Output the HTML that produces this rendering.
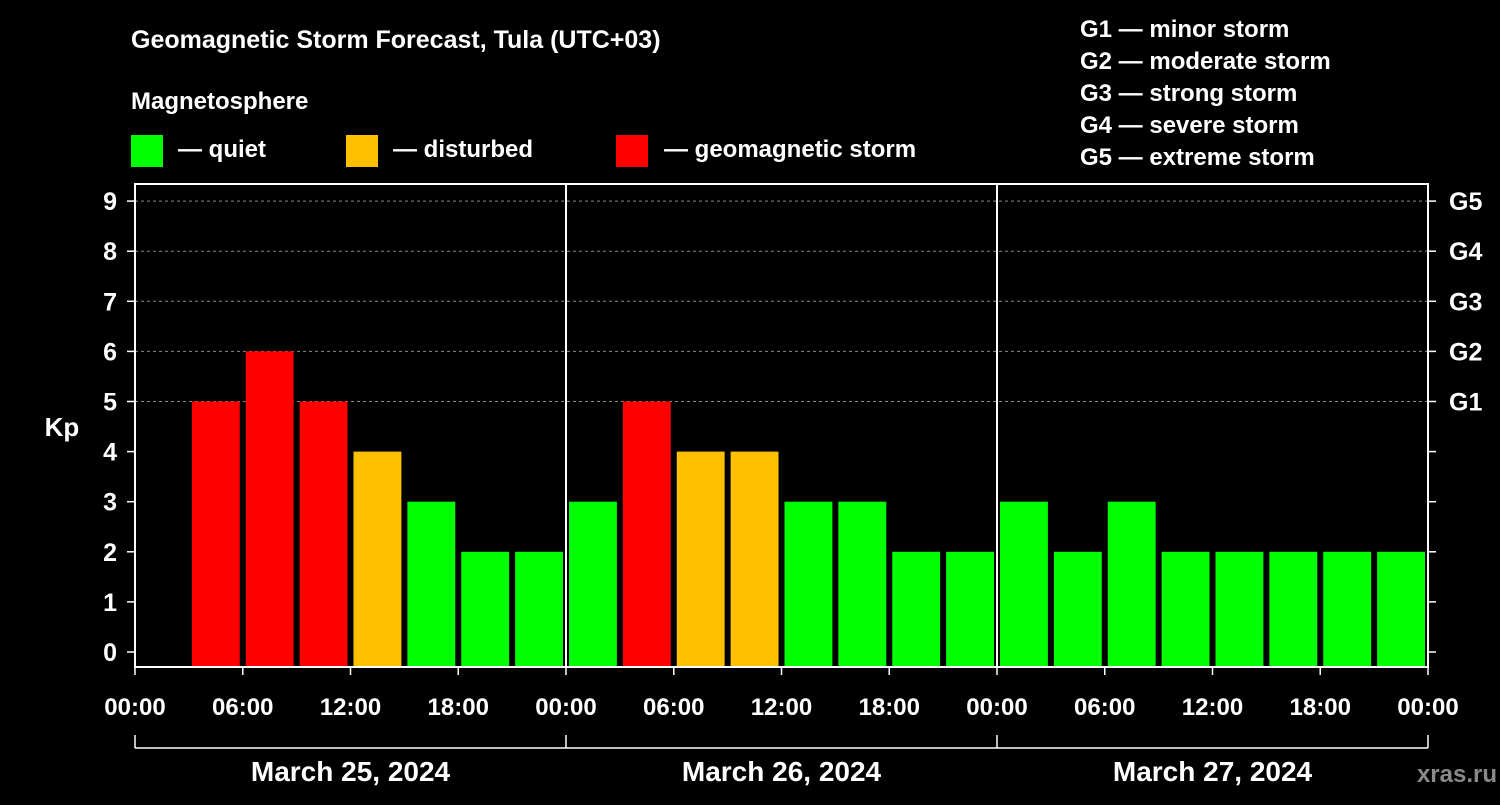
<!DOCTYPE html>
<html><head><meta charset="utf-8"><style>
body{margin:0;background:#000;width:1500px;height:800px;overflow:hidden}
svg text{font-family:"Liberation Sans",sans-serif;font-weight:bold;fill:#fff}
</style></head><body>
<svg id="c" width="1500" height="800">
<text x="131" y="48" font-size="25">Geomagnetic Storm Forecast, Tula (UTC+03)</text>
<text x="131" y="109" font-size="24">Magnetosphere</text>
<rect x="131" y="135" width="32" height="32" fill="#00ff00"/>
<text x="178" y="157" font-size="24">— quiet</text>
<rect x="346" y="135" width="32" height="32" fill="#ffc000"/>
<text x="393" y="157" font-size="24">— disturbed</text>
<rect x="616" y="135" width="32" height="32" fill="#ff0000"/>
<text x="664" y="157" font-size="24">— geomagnetic storm</text>
<g font-size="24">
<text x="1080" y="37">G1 — minor storm</text>
<text x="1080" y="69">G2 — moderate storm</text>
<text x="1080" y="101">G3 — strong storm</text>
<text x="1080" y="133">G4 — severe storm</text>
<text x="1080" y="165">G5 — extreme storm</text>
</g>
<text x="62" y="436" font-size="26" text-anchor="middle">Kp</text>
<text x="1497" y="782" font-size="24" text-anchor="end" fill="#888" style="fill:#8a8a8a">xras.ru</text>
<g id="g"></g>
</svg>
<script>
const dates=["March 25, 2024","March 26, 2024","March 27, 2024"];
const kp=[null,5,6,5,4,3,2,2, 3,5,4,4,3,3,2,2, 3,2,3,2,2,2,2,2];
const yTicks=[0,1,2,3,4,5,6,7,8,9];
const gLabels=["G1","G2","G3","G4","G5"];
const xTickLabels=["00:00","06:00","12:00","18:00"];
const NS="http://www.w3.org/2000/svg";
const g=document.getElementById('g');
const L=135,R=1428,T=184,B=667,Y0=652,unit=50.1;
const slotW=(R-L)/kp.length;
const y=v=>Y0-v*unit;
const x=i=>L+i*slotW;
function mk(t,a,txt){const e=document.createElementNS(NS,t);for(const k in a)e.setAttribute(k,a[k]);if(txt!=null)e.textContent=txt;g.appendChild(e);return e;}
// grid
yTicks.filter(v=>v>=5).forEach(v=>{
 const e=mk('line',{x1:L,x2:R,y1:y(v),y2:y(v),stroke:'#888','stroke-dasharray':'3,3','stroke-width':1});
 
 
});
// bars
kp.forEach((v,i)=>{
 if(v==null)return;
 const c=v>=5?'#ff0000':v>=4?'#ffc000':'#00ff00';
 const e=mk('rect',{x:x(i)+3,y:y(v),width:slotW-6,height:B-y(v),fill:c});
 
 
});
// frame
const fr=mk('rect',{x:L,y:T,width:R-L,height:B-T,fill:'none',stroke:'#fff','stroke-width':2});


for(let d=1;d<dates.length;d++){
 const e=mk('line',{x1:x(d*8),x2:x(d*8),y1:T,y2:B,stroke:'#fff','stroke-width':2});
 
 
}
// y ticks
yTicks.forEach(v=>{
 mk('line',{x1:L-8,x2:L,y1:y(v),y2:y(v),stroke:'#fff','stroke-width':1.5});
 mk('line',{x1:R,x2:R+8,y1:y(v),y2:y(v),stroke:'#fff','stroke-width':1.5});
 const t=mk('text',{x:L-18,y:y(v)+9,'font-size':25,'text-anchor':'end'},String(v));
 
 
});
gLabels.forEach((s,i)=>{
 const t=mk('text',{x:1449,y:y(5+i)+9,'font-size':25},s);
 
 
});
// x ticks
for(let i=0;i<=kp.length;i+=2){
 mk('line',{x1:x(i),x2:x(i),y1:B,y2:B+8,stroke:'#fff','stroke-width':1.5});
 const t=mk('text',{x:x(i),y:715,'font-size':24,'text-anchor':'middle'},xTickLabels[(i/2)%4]);
 
 
}
// date brackets
mk('line',{x1:L,x2:R,y1:748,y2:748,stroke:'#fff','stroke-width':1.5});
for(let d=0;d<=dates.length;d++)mk('line',{x1:x(d*8),x2:x(d*8),y1:735,y2:748,stroke:'#fff','stroke-width':1.5});
dates.forEach((s,d)=>{
 const t=mk('text',{x:(x(d*8)+x(d*8+8))/2,y:781,'font-size':28,'text-anchor':'middle'},s);
 
 
});
</script>
</body></html>
